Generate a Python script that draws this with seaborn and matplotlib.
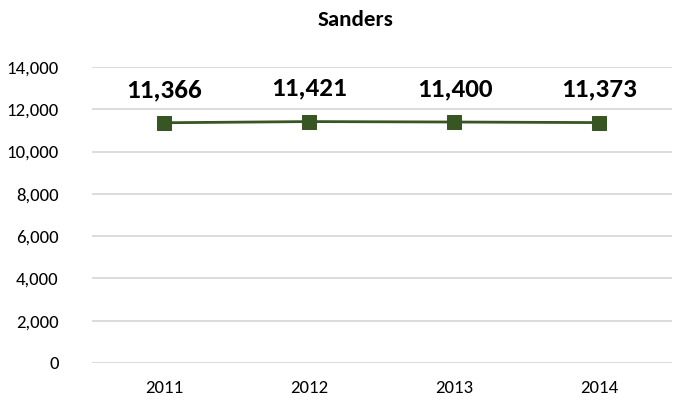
import matplotlib
matplotlib.use("Agg")
import matplotlib.pyplot as plt
import seaborn as sns
import pandas as pd

years = ["2011", "2012", "2013", "2014"]
population = [11366, 11421, 11400, 11373]
title = "Sanders"

df = pd.DataFrame({"year": years, "pop": population})

sns.set_style("white")
plt.rcParams["font.family"] = ["Carlito", "Open Sans", "DejaVu Sans"]
plt.rcParams["text.color"] = "black"
plt.rcParams["xtick.color"] = "black"
plt.rcParams["ytick.color"] = "black"

fig = plt.figure(figsize=(6.78, 4.04), dpi=100)
ax = fig.add_axes([0.1357, 0.1015, 0.8553, 0.7325])

green = "#375623"
sns.lineplot(data=df, x="year", y="pop", ax=ax, color=green, linewidth=2,
             marker="s", markersize=10, markeredgecolor=green, sort=False)

ax.set_ylim(0, 14000)
ax.set_xlim(-0.5, len(years) - 0.5)
ax.set_yticks(range(0, 14001, 2000))
ax.yaxis.set_major_formatter(matplotlib.ticker.FuncFormatter(lambda v, p: f"{int(v):,}"))
ax.grid(axis="y", color="#d9d9d9", linewidth=1.3)
ax.set_axisbelow(True)
for s in ax.spines.values():
    s.set_visible(False)
ax.tick_params(axis="both", length=0, labelsize=13.5)
ax.tick_params(axis="x", pad=12)
ax.tick_params(axis="y", pad=24)
ax.set_xlabel("")
ax.set_ylabel("")

for i, v in enumerate(population):
    ax.annotate(f"{v:,}", (i, v), xytext=(0, 24), textcoords="offset points",
                ha="center", va="center", fontsize=19.5, fontweight="bold")

fig.text(0.524, 0.95, title, ha="center", va="center", fontsize=16.5, fontweight="bold")

fig.savefig("out.png", dpi=100)
